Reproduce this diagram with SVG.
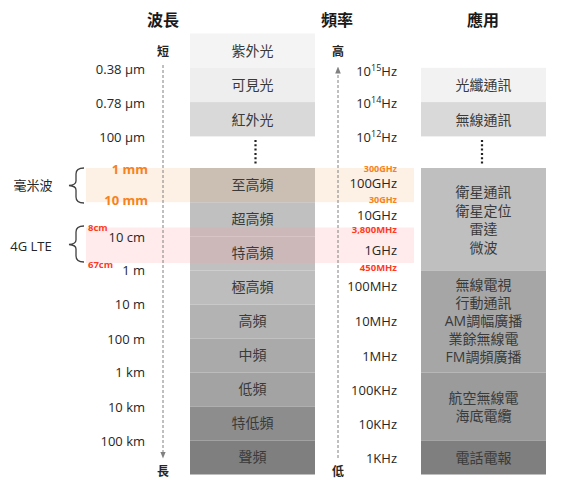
<svg xmlns="http://www.w3.org/2000/svg" width="570" height="483" viewBox="0 0 570 483">
<defs>
<style>
text{font-family:"Open Sans","Noto Sans CJK TC",sans-serif;fill:#262626}
.h{font-size:16px;font-weight:bold;text-anchor:middle;font-family:"Noto Sans CJK TC",sans-serif;fill:#1a1a1a}
.wl{font-size:13px;text-anchor:end}
.fq{font-size:13px;text-anchor:end}
.box{font-size:14px;text-anchor:middle;font-family:"Noto Sans CJK TC",sans-serif;fill:#3a3a3a}
.ap{font-size:14px;text-anchor:middle;font-family:"Open Sans","Noto Sans CJK TC",sans-serif;fill:#3a3a3a}
.or{fill:#f7821b;font-weight:bold}
.rd{fill:#ff3b1f;font-weight:bold;font-size:9.5px}
.sm{font-size:9px}
.ax{stroke:#808080;stroke-width:1;stroke-dasharray:3,2;fill:none}
.dots{stroke:#222;stroke-width:2.2;stroke-dasharray:2,2.3;fill:none}
.brace{stroke:#404040;stroke-width:1.3;fill:none}
.lbl{font-size:13px;text-anchor:middle;font-family:"Open Sans","Noto Sans CJK TC",sans-serif}
.end{font-size:12px;text-anchor:middle;font-family:"Noto Sans CJK TC",sans-serif;font-weight:bold}
</style>
<marker id="arr" viewBox="0 0 10 10" refX="5" refY="5" markerWidth="7" markerHeight="7" orient="auto"><path d="M0,1 L10,5 L0,9 Z" fill="#808080"/></marker>
</defs>
<rect width="570" height="483" fill="#fff"/>

<!-- headers -->
<g id="headers">
<text class="h" x="163" y="26">波長</text>
<text class="h" x="337" y="26">頻率</text>
<text class="h" x="483" y="26">應用</text>
</g>

<!-- middle column bands -->
<g id="bands">
<g id="b-uv"><rect x="190" y="33.5" width="125" height="34.3" fill="#f4f4f4"/><text class="box" x="252.5" y="55.5">紫外光</text></g>
<g id="b-vis"><rect x="190" y="67.8" width="125" height="34.3" fill="#eeeeee"/><text class="box" x="252.5" y="90">可見光</text></g>
<g id="b-ir"><rect x="190" y="102.1" width="125" height="34.3" fill="#d9d9d9"/><text class="box" x="252.5" y="124.5">紅外光</text></g>
<g id="b-ehf"><rect x="190" y="168" width="125" height="34.2" fill="#bfbfbf"/></g>
<g id="b-shf"><rect x="190" y="202.2" width="125" height="34.2" fill="#c0c0c0"/></g>
<g id="b-uhf"><rect x="190" y="236.4" width="125" height="34.1" fill="#c0c0c0"/></g>
<g id="b-vhf"><rect x="190" y="270.5" width="125" height="34" fill="#bdbdbd"/></g>
<g id="b-hf"><rect x="190" y="304.5" width="125" height="34" fill="#b3b3b3"/></g>
<g id="b-mf"><rect x="190" y="338.5" width="125" height="34" fill="#aaaaaa"/></g>
<g id="b-lf"><rect x="190" y="372.5" width="125" height="34" fill="#a3a3a3"/></g>
<g id="b-vlf"><rect x="190" y="406.5" width="125" height="34" fill="#8d8d8d"/></g>
<g id="b-af"><rect x="190" y="440.5" width="125" height="34" fill="#7f7f7f"/></g>
</g>

<!-- application column -->
<g id="apps">
<g id="a-fiber"><rect x="421" y="67.8" width="125" height="34.3" fill="#f2f2f2"/><text class="ap" x="483.5" y="90">光纖通訊</text></g>
<g id="a-wireless"><rect x="421" y="102.1" width="125" height="34.3" fill="#d9d9d9"/><text class="ap" x="483.5" y="124.5">無線通訊</text></g>
<g id="a-sat"><rect x="421" y="168" width="125" height="102.5" fill="#bfbfbf"/>
<text class="ap" x="483.5" y="197">衛星通訊</text><text class="ap" x="483.5" y="215.5">衛星定位</text><text class="ap" x="483.5" y="234">雷達</text><text class="ap" x="483.5" y="252.5">微波</text></g>
<g id="a-tv"><rect x="421" y="270.5" width="125" height="102" fill="#a6a6a6"/>
<text class="ap" x="483.5" y="290">無線電視</text><text class="ap" x="483.5" y="308">行動通訊</text><text class="ap" x="483.5" y="326">AM調幅廣播</text><text class="ap" x="483.5" y="344">業餘無線電</text><text class="ap" x="483.5" y="362">FM調頻廣播</text></g>
<g id="a-air"><rect x="421" y="372.5" width="125" height="68" fill="#9b9b9b"/>
<text class="ap" x="483.5" y="403">航空無線電</text><text class="ap" x="483.5" y="421">海底電纜</text></g>
<g id="a-tel"><rect x="421" y="440.5" width="125" height="34" fill="#7f7f7f"/><text class="ap" x="483.5" y="462.5">電話電報</text></g>
</g>

<!-- highlight overlays -->
<g id="highlights">
<rect x="86" y="168" width="328" height="34.2" fill="#f7bf8f" fill-opacity="0.23"/>
<rect x="86" y="227.5" width="328" height="35.5" fill="#ff9999" fill-opacity="0.2"/>
</g>

<!-- band labels on top -->
<g id="band-labels">
<text class="box" x="252.5" y="190">至高頻</text>
<text class="box" x="252.5" y="224">超高頻</text>
<text class="box" x="252.5" y="258">特高頻</text>
<text class="box" x="252.5" y="292">極高頻</text>
<text class="box" x="252.5" y="326">高頻</text>
<text class="box" x="252.5" y="360">中頻</text>
<text class="box" x="252.5" y="394">低頻</text>
<text class="box" x="252.5" y="428">特低頻</text>
<text class="box" x="252.5" y="462">聲頻</text>
</g>

<!-- connectors / axes -->
<g id="connectors">
<line class="ax" x1="163" y1="65" x2="163" y2="455" marker-end="url(#arr)"/>
<line class="ax" x1="338" y1="458" x2="338" y2="70" marker-end="url(#arr)"/>
<line class="dots" x1="255.5" y1="140" x2="255.5" y2="164"/>
<line class="dots" x1="482" y1="140" x2="482" y2="164"/>
<path class="brace" d="M84,168 Q76,168 76,174 L76,181 Q76,185 69,185.5 Q76,186 76,190 L76,197 Q76,203 84,203"/>
<path class="brace" d="M84,226 Q76,226 76,232 L76,240 Q76,244 69,244.5 Q76,245 76,249 L76,256 Q76,262 84,262"/>
</g>

<g id="axis-ends">
<text class="end" x="163" y="56">短</text>
<text class="end" x="163" y="476">長</text>
<text class="end" x="338" y="56">高</text>
<text class="end" x="338" y="476">低</text>
</g>

<!-- wavelength labels -->
<g id="wavelengths">
<text class="wl" x="145" y="73.5">0.38 µm</text>
<text class="wl" x="145" y="107.5">0.78 µm</text>
<text class="wl" x="145" y="141.5">100 µm</text>
<text class="wl or" x="148" y="173.5">1 mm</text>
<text class="wl or" x="148" y="204.5">10 mm</text>
<text class="wl" x="145" y="241.5">10 cm</text>
<text class="wl" x="145" y="274.5">1 m</text>
<text class="wl" x="145" y="308.5">10 m</text>
<text class="wl" x="145" y="343.5">100 m</text>
<text class="wl" x="145" y="376.5">1 km</text>
<text class="wl" x="145" y="411.5">10 km</text>
<text class="wl" x="145" y="445.5">100 km</text>
<text class="rd" x="88" y="231" text-anchor="start">8cm</text>
<text class="rd" x="88" y="268" text-anchor="start">67cm</text>
</g>

<!-- frequency labels -->
<g id="frequencies">
<text class="fq" x="397" y="75.5">10<tspan font-size="9" dy="-5">15</tspan><tspan dy="5">Hz</tspan></text>
<text class="fq" x="397" y="107.5">10<tspan font-size="9" dy="-5">14</tspan><tspan dy="5">Hz</tspan></text>
<text class="fq" x="397" y="141.5">10<tspan font-size="9" dy="-5">12</tspan><tspan dy="5">Hz</tspan></text>
<text class="fq sm or" x="397" y="171.5">300GHz</text>
<text class="fq" x="397" y="187.5">100GHz</text>
<text class="fq sm or" x="397" y="202.5">30GHz</text>
<text class="fq" x="397" y="220">10GHz</text>
<text class="fq rd" x="397" y="233">3,800MHz</text>
<text class="fq" x="397" y="254.5">1GHz</text>
<text class="fq rd" x="397" y="270.5">450MHz</text>
<text class="fq" x="397" y="290.5">100MHz</text>
<text class="fq" x="397" y="325.5">10MHz</text>
<text class="fq" x="397" y="360.5">1MHz</text>
<text class="fq" x="397" y="394.5">100KHz</text>
<text class="fq" x="397" y="428.5">10KHz</text>
<text class="fq" x="397" y="462.5">1KHz</text>
</g>

<g id="side-labels">
<text class="lbl" x="33" y="189.5">毫米波</text>
<text class="lbl" x="31" y="251">4G LTE</text>
</g>
</svg>
